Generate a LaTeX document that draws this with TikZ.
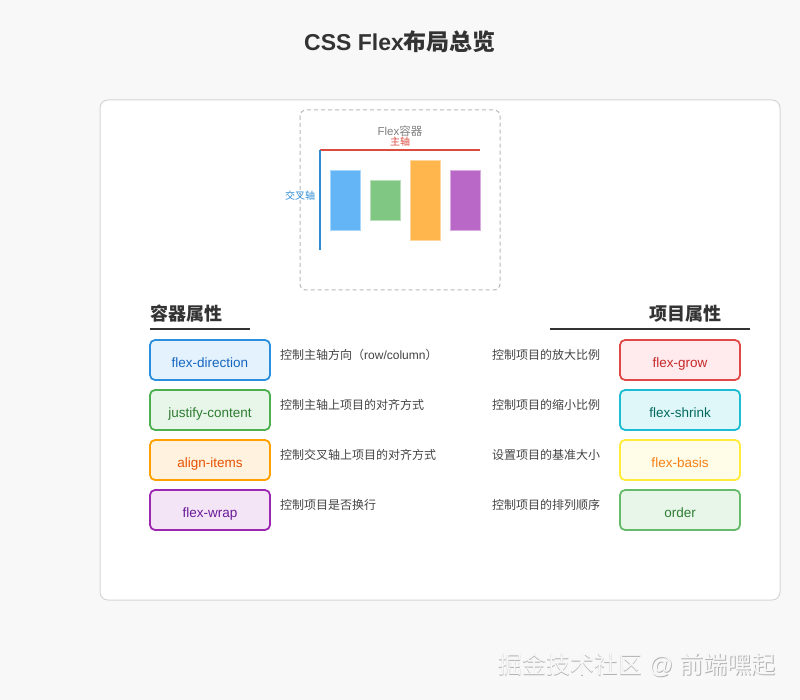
\documentclass[tikz,border=0pt]{standalone}
\usepackage{fontspec}
\setmainfont{Liberation Sans}
\newfontfamily\cjk{Noto Sans CJK SC}
\usetikzlibrary{positioning,backgrounds,calc}
\definecolor{pageBg}{HTML}{F8F8F8}
\definecolor{panelLine}{HTML}{D6D6D6}
\definecolor{titleColor}{HTML}{333333}
\definecolor{descColor}{HTML}{444444}
\definecolor{mainAxis}{HTML}{DB4B3F}
\definecolor{crossAxis}{HTML}{2F8DD6}
\definecolor{itemBlue}{HTML}{64B5F6}
\definecolor{itemGreen}{HTML}{81C784}
\definecolor{itemOrange}{HTML}{FFB74D}
\definecolor{itemPurple}{HTML}{BA68C8}
\definecolor{dirLine}{HTML}{2B8FE0}\definecolor{dirFill}{HTML}{E3F2FD}\definecolor{dirText}{HTML}{1565C0}
\definecolor{jusLine}{HTML}{4CAF50}\definecolor{jusFill}{HTML}{E8F5E9}\definecolor{jusText}{HTML}{2E7D32}
\definecolor{aliLine}{HTML}{FFA000}\definecolor{aliFill}{HTML}{FFF3E0}\definecolor{aliText}{HTML}{E65100}
\definecolor{wrpLine}{HTML}{9C27B0}\definecolor{wrpFill}{HTML}{F3E5F5}\definecolor{wrpText}{HTML}{6A1B9A}
\definecolor{groLine}{HTML}{E04848}\definecolor{groFill}{HTML}{FFEBEE}\definecolor{groText}{HTML}{C62828}
\definecolor{shrLine}{HTML}{1CBCD2}\definecolor{shrFill}{HTML}{E0F7FA}\definecolor{shrText}{HTML}{00695C}
\definecolor{basLine}{HTML}{FFEB3B}\definecolor{basFill}{HTML}{FFFDE7}\definecolor{basText}{HTML}{F57F17}
\definecolor{ordLine}{HTML}{66BB6A}\definecolor{ordFill}{HTML}{E8F5E9}\definecolor{ordText}{HTML}{2E7D32}
\newcommand{\zh}[1]{{\cjk #1}}
\newcommand{\boxtxt}[1]{\raisebox{-7.5pt}[0pt][0pt]{#1}}
\tikzset{
	propbox/.style args={#1}{draw=#1Line, fill=#1Fill, text=#1Text, line width=1.8pt,
		rounded corners=5pt, minimum width=120pt, minimum height=40pt, inner sep=0,
		font=\fontsize{13.5}{16}\selectfont},
	desc/.style={anchor=west, inner sep=0, text=descColor, font=\fontsize{12}{14}\selectfont},
	heading/.style={inner sep=0, text=titleColor, font=\fontsize{18}{21}\selectfont\bfseries},
	flexitem/.style={line width=0.8pt, draw=#1!55!white, fill=#1}
}
\begin{document}
\begin{tikzpicture}[x=1pt,y=-1pt]
\useasboundingbox (0,0) rectangle (800,700);
\fill[pageBg] (0,0) rectangle (800,700);
\node[text=titleColor, font=\fontsize{23}{28}\selectfont\bfseries] (title) at (400,42) {CSS Flex\zh{布局总览}};
\draw[panelLine, fill=white, line width=1pt, rounded corners=8pt] (100,100) rectangle (780,600);
% flex container sketch
\draw[gray!55, dash pattern=on 4pt off 3pt, line width=1pt, rounded corners=6pt] (300,110) rectangle (500,290);
\node[text=gray, font=\fontsize{11.5}{13}\selectfont] (cont) at (400,131) {Flex\zh{容器}};
\node[text=mainAxis, font=\fontsize{10}{12}\selectfont] (mainlab) at (400,142) {\zh{主轴}};
\node[text=crossAxis, font=\fontsize{10}{12}\selectfont] (crosslab) at (300,196) {\zh{交叉轴}};
\coordinate (origin) at (320,150);
\coordinate (mainend) at (480,150);
\coordinate (crossend) at (320,250);
\draw[mainAxis, line width=1.8pt] (origin) -- (mainend);
\draw[crossAxis, line width=1.8pt] (origin) -- (crossend);
\draw[flexitem=itemBlue] (330,170) rectangle (360,230);
\draw[flexitem=itemGreen] (370,180) rectangle (400,220);
\draw[flexitem=itemOrange] (410,160) rectangle (440,240);
\draw[flexitem=itemPurple] (450,170) rectangle (480,230);
% headings
\node[heading, anchor=west] (conthead) at (150,314) {\zh{容器属性}};
\node[heading, anchor=east] (itemhead) at (722,314) {\zh{项目属性}};
\draw[titleColor, line width=1.5pt] (150,329) -- (250,329);
\draw[titleColor, line width=1.5pt] (550,329) -- (750,329);
% container properties
\node[propbox=dir] (dir) at (210,360) {\boxtxt{flex-direction}};
\node[propbox=jus] (jus) at (210,410) {\boxtxt{justify-content}};
\node[propbox=ali] (ali) at (210,460) {\boxtxt{align-items}};
\node[propbox=wrp] (wrp) at (210,510) {\boxtxt{flex-wrap}};
\node[desc] (dirdesc) at (280,355) {\zh{控制主轴方向（}row/column\zh{）}};
\node[desc] (jusdesc) at (280,405) {\zh{控制主轴上项目的对齐方式}};
\node[desc] (alidesc) at (280,455) {\zh{控制交叉轴上项目的对齐方式}};
\node[desc] (wrpdesc) at (280,505) {\zh{控制项目是否换行}};
% item properties
\node[propbox=gro] (gro) at (680,360) {\boxtxt{flex-grow}};
\node[propbox=shr] (shr) at (680,410) {\boxtxt{flex-shrink}};
\node[propbox=bas] (bas) at (680,460) {\boxtxt{flex-basis}};
\node[propbox=ord] (ord) at (680,510) {\boxtxt{order}};
\node[desc] (grodesc) at (492,355) {\zh{控制项目的放大比例}};
\node[desc] (shrdesc) at (492,405) {\zh{控制项目的缩小比例}};
\node[desc] (basdesc) at (492,455) {\zh{设置项目的基准大小}};
\node[desc] (orddesc) at (492,505) {\zh{控制项目的排列顺序}};
% watermark
\node[text=gray!60, font=\fontsize{24}{28}\selectfont] (markshadow) at (637.8,665.8) {\zh{掘金技术社区} @ \zh{前端嘿起}};
\node[text=gray!6, font=\fontsize{24}{28}\selectfont] (mark) at (637,665) {\zh{掘金技术社区} @ \zh{前端嘿起}};
\end{tikzpicture}
\end{document}
